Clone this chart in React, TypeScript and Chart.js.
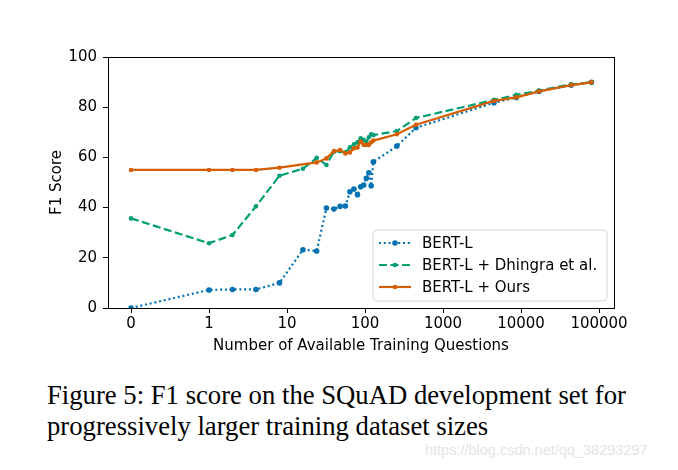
import React, { useEffect, useRef } from "react";
import { Chart, registerables } from "chart.js";

Chart.register(...registerables);

const questions = [0, 1, 2, 4, 8, 16, 24, 32, 40, 48, 56, 64, 72, 80, 88, 96, 104, 112, 120, 128, 256, 450, 4500, 8700, 17000, 44000, 80000];
const bertL = [0, 7.2, 7.4, 7.4, 10, 23.2, 22.7, 39.8, 39.4, 40.5, 40.6, 46.3, 47.4, 45.1, 48.3, 49, 51.7, 53.9, 48.7, 58.2, 64.5, 71.8, 81.8, 83.9, 86.3, 88.8, 89.9];
const bertDhingra = [35.7, 25.8, 29.1, 40.5, 52.7, 55.5, 59.8, 57.0, 62.3, 62.5, 62.0, 64.0, 65.2, 66.0, 67.6, 67.0, 66.2, 68.0, 69.2, 68.9, 70.5, 75.7, 82.9, 84.9, 86.6, 89.1, 89.9];
const bertOurs = [55, 55, 55, 55, 55.9, null, 58, 59.6, 62.5, 62.9, 61.6, 62, 63.6, 63.9, 66.3, 65, 65, 65, 66, 66.7, 69.2, 73, 82.5, 83.9, 86.3, 88.8, 89.9];
const xTickValues = [0, 1, 10, 100, 1000, 10000, 100000];
const yTicks = [0, 20, 40, 60, 80, 100];
const seriesNames = ["BERT-L", "BERT-L + Dhingra et al.", "BERT-L + Ours"];
const seriesColors = ["#0072B2", "#009E73", "#D55E00"];

const toPos = (v: number) => (v === 0 ? -1 : Math.log10(v));
const mk = (ys: (number | null)[]) => questions.map((q, i) => ({ x: toPos(q), y: ys[i] as any }));

const FONT = "'DejaVu Sans', sans-serif";
const FS = 15;

const framePlugin = {
  id: "frameLegend",
  afterDatasetsDraw(chart: any) {
    const { ctx, chartArea: a } = chart;
    ctx.save();
    ctx.strokeStyle = "#000";
    ctx.lineWidth = 1;
    ctx.strokeRect(a.left + 0.5, a.top + 0.5, a.right - a.left, a.bottom - a.top);
    // legend
    const w = 234, h = 71;
    const lx = a.right - 7 - w, ly = a.bottom - 7 - h;
    const r = 4;
    ctx.beginPath();
    ctx.moveTo(lx + r, ly);
    ctx.lineTo(lx + w - r, ly);
    ctx.quadraticCurveTo(lx + w, ly, lx + w, ly + r);
    ctx.lineTo(lx + w, ly + h - r);
    ctx.quadraticCurveTo(lx + w, ly + h, lx + w - r, ly + h);
    ctx.lineTo(lx + r, ly + h);
    ctx.quadraticCurveTo(lx, ly + h, lx, ly + h - r);
    ctx.lineTo(lx, ly + r);
    ctx.quadraticCurveTo(lx, ly, lx + r, ly);
    ctx.closePath();
    ctx.fillStyle = "rgba(255,255,255,0.85)";
    ctx.fill();
    ctx.strokeStyle = "#d6d6d6";
    ctx.lineWidth = 1;
    ctx.stroke();
    const dashes = [[2, 2.8], [8, 3.5], []];
    const radii = [2.8, 2.3, 2.3];
    seriesNames.forEach((name, i) => {
      const cy = ly + 13 + i * 22;
      ctx.beginPath();
      ctx.setLineDash(dashes[i]);
      ctx.strokeStyle = seriesColors[i];
      ctx.lineWidth = 2.2;
      ctx.moveTo(lx + 6, cy);
      ctx.lineTo(lx + 38, cy);
      ctx.stroke();
      ctx.setLineDash([]);
      ctx.beginPath();
      ctx.fillStyle = seriesColors[i];
      ctx.arc(lx + 22, cy, radii[i], 0, Math.PI * 2);
      ctx.fill();
      ctx.fillStyle = "#000";
      ctx.font = `${FS}px ${FONT}`;
      ctx.textBaseline = "middle";
      ctx.textAlign = "left";
      ctx.fillText(name, lx + 49, cy + 1);
    });
    ctx.restore();
  },
};

export default function App() {
  const ref = useRef<HTMLCanvasElement>(null);
  useEffect(() => {
    if (!ref.current) return;
    const chart = new Chart(ref.current, {
      type: "line",
      data: {
        datasets: [
          {
            label: seriesNames[0],
            data: mk(bertL),
            borderColor: seriesColors[0],
            backgroundColor: seriesColors[0],
            borderWidth: 2.2,
            borderDash: [2, 2.8],
            pointRadius: 2.8,
            pointBorderWidth: 0,
            fill: false,
            tension: 0,
            order: 3,
          },
          {
            label: seriesNames[1],
            data: mk(bertDhingra),
            borderColor: seriesColors[1],
            backgroundColor: seriesColors[1],
            borderWidth: 2.2,
            borderDash: [8, 3.5],
            pointRadius: 2.3,
            pointBorderWidth: 0,
            fill: false,
            tension: 0,
            order: 2,
          },
          {
            label: seriesNames[2],
            data: mk(bertOurs),
            borderColor: seriesColors[2],
            backgroundColor: seriesColors[2],
            borderWidth: 2.2,
            pointRadius: 2.3,
            pointBorderWidth: 0,
            fill: false,
            tension: 0,
            spanGaps: true,
            order: 1,
          },
        ],
      },
      options: {
        animation: false,
        responsive: false,
        devicePixelRatio: 1,
        layout: { padding: { left: 40, top: 57, right: 64, bottom: 5 } },
        plugins: { legend: { display: false }, tooltip: { enabled: false } },
        scales: {
          x: {
            type: "linear",
            min: -1.295,
            max: 5.192,
            afterBuildTicks: (s: any) => {
              s.ticks = xTickValues.map((v) => ({ value: toPos(v) }));
            },
            afterFit: (s: any) => {
              s.height = 47;
            },
            grid: { drawOnChartArea: false, drawTicks: true, tickLength: 5, color: "#000" },
            border: { color: "#000", width: 1 },
            ticks: {
              color: "#000",
              font: { family: FONT, size: FS },
              padding: 2,
              maxRotation: 0,
              autoSkip: false,
              callback: (v: any) => (v === -1 ? "0" : String(Math.round(Math.pow(10, v)))),
            },
            title: {
              display: true,
              text: "Number of Available Training Questions",
              color: "#000",
              font: { family: FONT, size: FS },
              padding: { top: 0, bottom: 0 },
            },
          },
          y: {
            min: 0,
            max: 100,
            afterBuildTicks: (s: any) => {
              s.ticks = yTicks.map((v) => ({ value: v }));
            },
            afterFit: (s: any) => {
              s.width = 68;
            },
            grid: { drawOnChartArea: false, drawTicks: true, tickLength: 5, color: "#000" },
            border: { color: "#000", width: 1 },
            ticks: { color: "#000", font: { family: FONT, size: FS }, padding: 6 },
            title: {
              display: true,
              text: "F1 Score",
              color: "#000",
              font: { family: FONT, size: FS },
              padding: { top: 8, bottom: 0 },
            },
          },
        },
      },
      plugins: [framePlugin],
    } as any);
    return () => chart.destroy();
  }, []);

  return (
    <div style={{ position: "absolute", left: 0, top: 0, width: 678, height: 470, background: "#fff", overflow: "hidden" }}>
      <canvas ref={ref} width={678} height={360} style={{ position: "absolute", left: 0, top: 0, width: 678, height: 360 }} />
      <div
        style={{
          position: "absolute",
          left: 47,
          top: 380,
          fontFamily: "'Liberation Serif', 'Times New Roman', serif",
          fontSize: 26.7,
          lineHeight: "31px",
          color: "#000",
          whiteSpace: "nowrap",
        }}
      >
        Figure 5: F1 score on the SQuAD development set for
        <br />
        progressively larger training dataset sizes
      </div>
      <div
        style={{
          position: "absolute",
          left: 425,
          top: 442,
          fontFamily: "'Liberation Sans', Arial, sans-serif",
          fontSize: 14.5,
          color: "#e4e4e4",
          whiteSpace: "nowrap",
        }}
      >
        https://blog.csdn.net/qq_38293297
      </div>
    </div>
  );
}
